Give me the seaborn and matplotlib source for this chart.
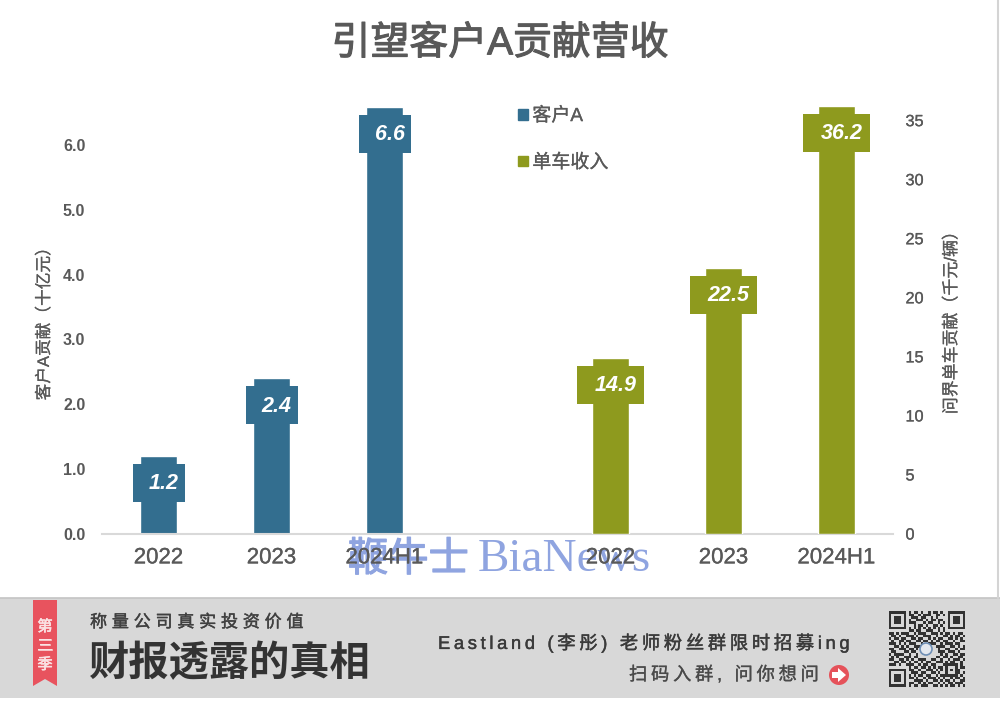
import numpy as np
import pandas as pd
import seaborn as sns
import matplotlib.pyplot as plt
import matplotlib.patheffects as pe
import matplotlib.transforms as mtransforms
from matplotlib.patches import Circle, Patch, Polygon, Rectangle

# chart data
periods = ["2022", "2023", "2024H1"]
client_a_revenue = [1.2, 2.4, 6.6]
per_vehicle_income = [14.9, 22.5, 36.2]
left_ticks = [0, 1, 2, 3, 4, 5, 6]
right_ticks = [0, 5, 10, 15, 20, 25, 30, 35]

# QR code in the banner
qr_rows = [
    "1111111010110100101101001111111",
    "1000001011001011100110101000001",
    "1011101001110110010100001011101",
    "1011101010011101011011001011101",
    "1011101011100010110010101011101",
    "1000001000101101001101001000001",
    "1111111010101010101010101111111",
    "0000000011011001110010100000000",
    "1101011100101110011101011010110",
    "0110100111010011100100110101101",
    "1011011001101100101011001101010",
    "0100110110011011010110110010011",
    "1110101011100100111001011101100",
    "0011010100111000000111100110101",
    "1100111011010000000010011001011",
    "0110001101100000000011101110100",
    "1011110010010000000001010011011",
    "0101001110110000000110110100110",
    "1100110101001110011001001011101",
    "0011011010110101100111010110010",
    "1110100111001011011000111111010",
    "0000000010110110101011010001011",
    "1111111011001001110101010101100",
    "1000001001110110011010010001101",
    "1011101010101101100101111111010",
    "1011101011010010111010100101101",
    "1011101000111101001101011010011",
    "1000001011001010110010101101110",
    "1111111010110111001101010110101",
]

BLUE = "#336E8F"
OLIVE = "#8E9A1E"
GREY = "#595959"
CJK = ["Liberation Sans", "Noto Sans CJK SC", "DejaVu Sans"]
W, H = 1000, 701

sns.set_theme(style="white")
plt.rcParams["font.family"] = CJK


def axes_from_pixels(fig, left, top, right, bottom):
    return fig.add_axes([left / W, 1 - bottom / H, (right - left) / W, (bottom - top) / H])


def thicken(text, width=0.2):
    # labels in the reference are a bit heavier than the regular weight
    text.set_path_effects([pe.withStroke(linewidth=width, foreground=text.get_color())])
    return text


def tracked(s):
    # the banner text is letter spaced
    return "\u2009".join(s)


def add_value_boxes(ax, xs, values, color):
    # data labels sit on a box just under the top of the bar, wider for longer labels
    for x, v in zip(xs, values):
        label = f"{v:.1f}"
        box_w = 52 if len(label) == 3 else 67
        px, py = ax.transData.transform((x, v))
        box = mtransforms.Affine2D().translate(px - box_w / 2, py - 46)
        ax.add_patch(Rectangle((0, 0), box_w, 38, transform=box, color=color, lw=0, zorder=3, clip_on=False))
        ax.annotate(label, (x, v), xytext=(5, -28), textcoords="offset pixels", ha="center",
                    va="center", color="white", fontsize=15.5, fontweight="bold", style="italic",
                    family="Liberation Sans", zorder=4)


def draw_banner(bg):
    bg.add_patch(Rectangle((0, 598), W, 100, color="#D8D8D8", lw=0))
    bg.plot([0, W], [598, 598], color="#C4C4C4", lw=1.2)
    bg.plot([998, 998], [0, 598], color="#D4D4D4", lw=1.5)

    # red ribbon
    bg.add_patch(Polygon([(33, 600), (57, 600), (57, 686), (45, 679), (33, 686)], color="#E8535E", lw=0))
    for y, ch in zip([627, 646, 665], "第三季"):
        thicken(bg.text(45, y, ch, color="#FBE3E4", fontsize=11, ha="center", va="center"), 0.4)

    thicken(bg.text(90, 622, "称 量 公 司 真 实 投 资 价 值", color="#404040", fontsize=12.3, va="center"), 0.3)
    bg.text(89, 663, "财报透露的真相", color="#333333", fontsize=29, fontweight="black", va="center")
    thicken(bg.text(438, 643, tracked("Eastland (李彤) 老师粉丝群限时招募ing"), color="#3A3A3A", fontsize=13.2, va="center"), 0.3)
    thicken(bg.text(629, 675, tracked("扫码入群, 问你想问"), color="#4A4A4A", fontsize=13.2, va="center"), 0.2)

    bg.add_patch(Circle((839, 675), 10, color="#E5525A", lw=0))
    bg.add_patch(Polygon([(832, 672), (838, 672), (838, 668), (846, 675), (838, 682), (838, 678), (832, 678)],
                         color="white", lw=0, zorder=3))

    qr = np.array([[int(c) for c in row] for row in qr_rows])
    bg.imshow(qr, cmap="gray_r", vmin=0, vmax=1.25, extent=(889, 965, 687, 611), aspect="auto",
              interpolation="nearest", alpha=np.where(qr == 1, 1.0, 0.0), zorder=2)
    bg.add_patch(Circle((926, 649), 6, fc="#E4E8EE", ec="#6F8FB5", lw=1.2, zorder=3))
    bg.set_xlim(0, W)
    bg.set_ylim(H, 0)


fig = plt.figure(figsize=(W / 100, H / 100), dpi=100, facecolor="white")

# full-figure layer: banner and watermark, below the chart
bg = fig.add_axes([0, 0, 1, 1], zorder=0)
bg.axis("off")
draw_banner(bg)
thicken(bg.text(348, 560, "鞭牛士", color="#8FA4E0", fontsize=29, va="center", ha="left"), 0.9)
bg.text(478, 560, "BiaNews", color="#8FA4E0", fontsize=34, family="Liberation Serif", va="center", ha="left")

ax = axes_from_pixels(fig, 102, 100, 893, 533.5)
ax.set_zorder(1)
ax.patch.set_alpha(0)
ax2 = ax.twinx()
ax2.set_zorder(2)
ax2.patch.set_alpha(0)

left_x = [0, 1, 2]
right_x = [4, 5, 6]
left_df = pd.DataFrame({"x": left_x, "value": client_a_revenue})
right_df = pd.DataFrame({"x": right_x, "value": per_vehicle_income})
sns.barplot(left_df, x="x", y="value", native_scale=True, color=BLUE, saturation=1, width=0.32, ax=ax)
sns.barplot(right_df, x="x", y="value", native_scale=True, color=OLIVE, saturation=1, width=0.32, ax=ax2)

ax.set_xlim(-0.5, 6.5)
ax.set_ylim(0, 433.5 / 64.67)
ax2.set_ylim(0, 433.5 / 11.81)

ax.set_xticks(left_x + right_x)
ax.set_xticklabels(periods + periods, fontsize=16, color=GREY)
ax.set_yticks(left_ticks)
ax.set_yticklabels([f"{t:.1f}" for t in left_ticks], fontsize=11.5, fontweight="bold", color=GREY)
ax2.set_yticks(right_ticks)
ax2.set_yticklabels([str(t) for t in right_ticks], fontsize=11.7, color=GREY)
ax.tick_params(axis="x", length=0, pad=10)
ax.tick_params(axis="y", length=0, pad=12)
ax2.tick_params(axis="y", length=0, pad=9)
for label in ax.get_xticklabels() + ax2.get_yticklabels():
    thicken(label)

for a in (ax, ax2):
    a.grid(False)
    a.set_xlabel("")
    a.set_ylabel("")
    for side in ("top", "left", "right"):
        a.spines[side].set_visible(False)
ax.spines["bottom"].set_color("#D9D9D9")
ax.spines["bottom"].set_linewidth(1.5)
ax2.spines["bottom"].set_visible(False)

add_value_boxes(ax, left_x, client_a_revenue, BLUE)
add_value_boxes(ax2, right_x, per_vehicle_income, OLIVE)

thicken(fig.text(500 / W, 1 - 44 / H, "引望客户A贡献营收", fontsize=28, color=GREY, ha="center", va="center"), 0.8)
thicken(fig.text(44 / W, 1 - 320 / H, "客户A贡献（十亿元）", fontsize=12, color=GREY, rotation=90, ha="center", va="center"), 0.15)
thicken(fig.text(951 / W, 1 - 319 / H, "问界单车贡献（千元/辆）", fontsize=12.2, color=GREY, rotation=90, ha="center", va="center"), 0.15)

handles = [Patch(color=BLUE, label="客户A"), Patch(color=OLIVE, label="单车收入")]
legend = ax2.legend(handles=handles, frameon=False, loc="upper left", bbox_to_anchor=(518 / W, 1 - 107 / H),
                    bbox_transform=fig.transFigure, fontsize=13.7, labelcolor=GREY, handlelength=0.5, handleheight=0.5,
                    handletextpad=0.25, labelspacing=1.5, borderpad=0, borderaxespad=0)
for label in legend.get_texts():
    thicken(label, 0.2)

fig.savefig("out.png", dpi=100)
